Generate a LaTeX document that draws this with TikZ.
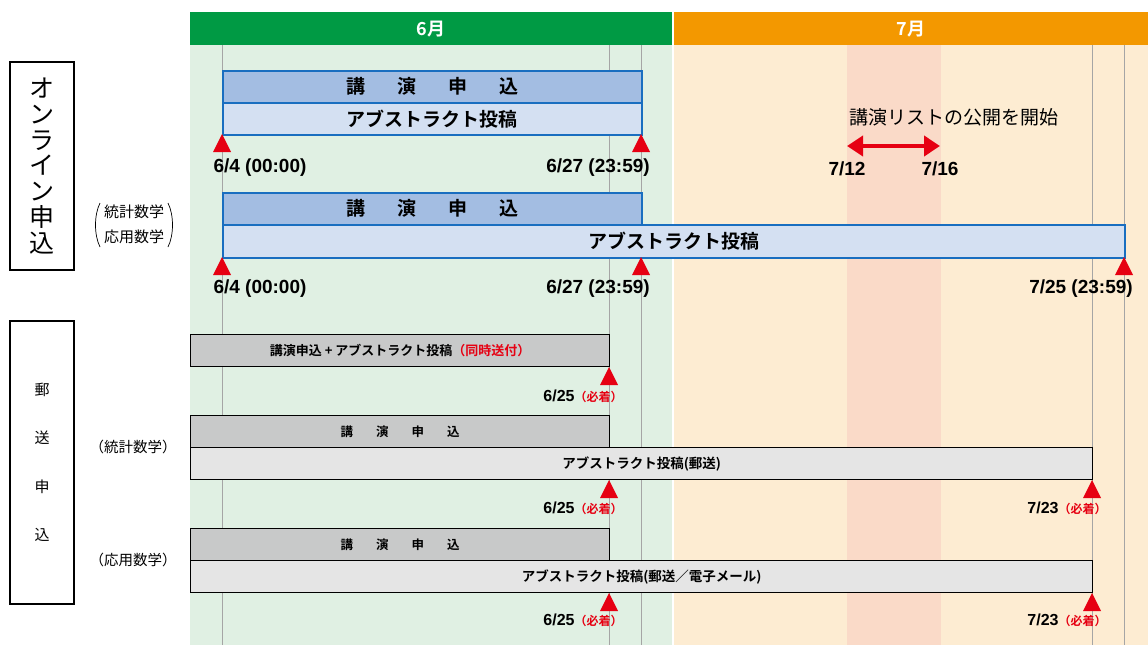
\documentclass[tikz,border=0pt]{standalone}
\usepackage{fontspec}
\setmainfont{Noto Sans CJK JP}[BoldFont={Noto Sans CJK JP Bold}]
\newfontfamily\numfont{Liberation Sans}
\usetikzlibrary{positioning, arrows.meta}

\definecolor{junegreen}{RGB}{0,154,68}
\definecolor{julyorange}{RGB}{243,152,0}
\definecolor{junebg}{RGB}{224,240,227}
\definecolor{julybg}{RGB}{253,236,210}
\definecolor{pinkband}{RGB}{250,218,200}
\definecolor{bluedark}{RGB}{163,189,226}
\definecolor{bluelight}{RGB}{212,224,242}
\definecolor{barblue}{RGB}{25,110,192}
\definecolor{greydark}{RGB}{200,201,201}
\definecolor{greylight}{RGB}{229,229,229}
\definecolor{notered}{RGB}{230,0,18}
\definecolor{gridgrey}{RGB}{165,165,165}

\tikzset{
  monthhead/.style={anchor=north west, minimum height=33pt, inner sep=0pt, text=white, font=\bfseries\fontsize{18}{18}\selectfont},
  gridline/.style={gridgrey, line width=0.8pt},
  talkbar/.style={anchor=north west, draw=barblue, line width=1.5pt, fill=bluedark, minimum height=32pt, inner sep=0pt, font=\bfseries\fontsize{19}{19}\selectfont},
  absbar/.style={talkbar, fill=bluelight},
  postbar/.style={anchor=north west, draw=black, line width=1.3pt, fill=greydark, minimum height=32pt, inner sep=0pt, font=\bfseries\fontsize{12.5}{12.5}\selectfont},
  postabs/.style={postbar, fill=greylight, font=\bfseries\fontsize{13.5}{13.5}\selectfont},
  datelabel/.style={font=\numfont\bfseries\fontsize{19}{19}\selectfont, inner sep=0pt},
  duelabel/.style={font=\numfont\bfseries\fontsize{16}{16}\selectfont, inner sep=0pt},
  sidelabel/.style={font=\fontsize{14.5}{14.5}\selectfont, inner sep=0pt},
  tipred/.style={fill=notered},
  pubarrow/.style={notered, line width=4.5pt, {Triangle[length=16pt,width=20pt]}-{Triangle[length=16pt,width=20pt]}}
}

\begin{document}
\begin{tikzpicture}[x=1pt,y=-1pt]
\useasboundingbox (0,0) rectangle (1148,645);
% backgrounds
\fill[junebg] (190,45) rectangle (672,645);
\fill[julybg] (674,45) rectangle (1148,645);
\fill[pinkband] (847,45) rectangle (941,645);
\node[monthhead, fill=junegreen, minimum width=482pt] (june) at (190,12) {6月};
\node[monthhead, fill=julyorange, minimum width=474pt] (july) at (674,12) {7月};
\foreach \x in {222,609,641,1092,1124}
  \draw[gridline] (\x,45) -- (\x,645);

% side boxes
\node[draw, line width=2.2pt, minimum width=64pt, minimum height=208pt, inner sep=0pt, align=center,
  font=\fontsize{25}{25.8}\selectfont] (online) at (42,166) {オ\\ン\\ラ\\イ\\ン\\申\\込};
\node[draw, line width=1.1pt, minimum width=64pt, minimum height=283pt, inner sep=0pt, align=center,
  font=\fontsize{15}{48.5}\selectfont] (postal) at (42,462.5) {郵\\送\\申\\込};
\node[font=\fontsize{15}{15}\selectfont, inner sep=0pt] (statA) at (134,212) {統計数学};
\node[font=\fontsize{15}{15}\selectfont, inner sep=0pt] (applA) at (134,237) {応用数学};
\draw[line width=0.7pt] (100,203) .. controls (94,215) and (94,235) .. (100,247);
\draw[line width=0.7pt] (168,203) .. controls (174,215) and (174,235) .. (168,247);
\node[sidelabel] (statC) at (133,447) {（統計数学）};
\node[sidelabel] (applD) at (133,560) {（応用数学）};

% online
\node[talkbar, minimum width=419pt] (talkA) at (222,70) {講\hspace{32pt}演\hspace{32pt}申\hspace{32pt}込};
\node[absbar, minimum width=419pt] (absA) at (222,102) {アブストラクト投稿};
\node[talkbar, minimum width=419pt] (talkB) at (222,192) {講\hspace{32pt}演\hspace{32pt}申\hspace{32pt}込};
\node[absbar, minimum width=902pt, minimum height=33pt] (absB) at (222,224) {アブストラクト投稿};

\node[datelabel] (startA) at (260,168) {6/4 (00:00)};
\node[datelabel] (endA) at (598,168) {6/27 (23:59)};
\node[datelabel] (startB) at (260,289) {6/4 (00:00)};
\node[datelabel] (endB) at (598,289) {6/27 (23:59)};
\node[datelabel] (endAbsB) at (1081,289) {7/25 (23:59)};

\node[font=\fontsize{19}{19}\selectfont, inner sep=0pt] (pub) at (954,117) {講演リストの公開を開始};
\coordinate (s12) at (847,146);
\coordinate (s16) at (940,146);
\draw[pubarrow] (s12) -- (s16);
\node[datelabel] (d12) at (847,169) {7/12};
\node[datelabel] (d16) at (940,169) {7/16};

% postal
\node[postbar, minimum width=419pt, font=\bfseries\fontsize{13}{13}\selectfont] (mailA) at (190,334) {講演申込 + アブストラクト投稿{\color{notered}（同時送付）}};
\node[postbar, minimum width=419pt] (talkC) at (190,415) {講\hspace{23pt}演\hspace{23pt}申\hspace{23pt}込};
\node[postabs, minimum width=902pt] (absC) at (190,447) {アブストラクト投稿(郵送)};
\node[postbar, minimum width=419pt] (talkD) at (190,528) {講\hspace{23pt}演\hspace{23pt}申\hspace{23pt}込};
\node[postabs, minimum width=902pt] (absD) at (190,560) {アブストラクト投稿(郵送／電子メール)};

\foreach \y in {396,508,620}
  \node[duelabel] (due625-\y) at (583,\y) {6/25{\normalfont\bfseries\color{notered}\fontsize{12}{12}\selectfont（必着）}};
\foreach \y in {508,620}
  \node[duelabel] (due723-\y) at (1067,\y) {7/23{\normalfont\bfseries\color{notered}\fontsize{12}{12}\selectfont（必着）}};

% deadline markers
\foreach \x/\y in {222/134, 641/134, 222/257, 641/257, 1124/257, 609/367, 609/480, 1092/480, 609/593, 1092/593}
  \fill[tipred, shift={(\x,\y)}] (-9,18) -- (0,0) -- (9,18) -- cycle;
\end{tikzpicture}
\end{document}
